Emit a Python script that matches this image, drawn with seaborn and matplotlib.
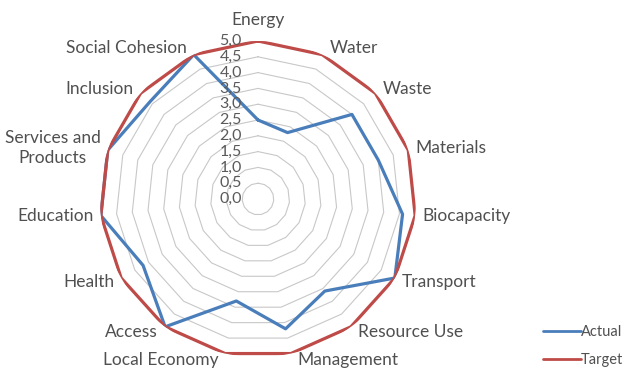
import numpy as np
import pandas as pd
import matplotlib
matplotlib.use("Agg")
import matplotlib.pyplot as plt
import seaborn as sns
from matplotlib.lines import Line2D

categories = ["Energy", "Water", "Waste", "Materials", "Biocapacity", "Transport",
              "Resource Use", "Management", "Local Economy", "Access", "Health",
              "Education", "Services and\nProducts", "Inclusion", "Social Cohesion"]
actual = [2.5, 2.3, 4.0, 4.0, 4.6, 5.0, 3.6, 4.2, 3.3, 5.0, 4.2, 5.0, 5.0, 4.6, 5.0]
target = [5.0] * 15
ring_levels = [0.5, 1.0, 1.5, 2.0, 2.5, 3.0, 3.5, 4.0, 4.5, 5.0]
tick_labels = ["0,0", "0,5", "1,0", "1,5", "2,0", "2,5", "3,0", "3,5", "4,0", "4,5", "5,0"]

sns.set_style("white")
plt.rcParams['font.family'] = ['Lato', 'DejaVu Sans']

n = len(categories)
angles = np.arange(n) * 2 * np.pi / n
closed = np.append(angles, angles[0])

rows = []
for name, vals in [("Actual", actual), ("Target", target)]:
    for i, a in enumerate(list(angles) + [angles[0]]):
        rows.append({"angle": a, "value": vals[i % n], "series": name})
df = pd.DataFrame(rows)

fig = plt.figure(figsize=(6.28, 3.74), dpi=100)
W, H = 628, 374
cx, cy, R = 258, 199, 158
ax = fig.add_axes([(cx - R) / W, (H - cy - R) / H, 2 * R / W, 2 * R / H], projection='polar')
ax.set_theta_zero_location('N')
ax.set_theta_direction(-1)
ax.set_ylim(0, 5)
ax.grid(False)
ax.spines['polar'].set_visible(False)
ax.set_xticks([])
ax.set_yticks([])
ax.patch.set_alpha(0)

for lv in ring_levels:
    ax.plot(closed, [lv] * (n + 1), color='#C8C8C8', lw=0.8, zorder=1)

palette = {"Actual": "#4A7EBB", "Target": "#BE4B48"}
sns.lineplot(data=df, x="angle", y="value", hue="series", sort=False, estimator=None,
             units="series", palette=palette, lw=2.3, ax=ax, legend=False, zorder=3)
ax.set_xlabel("")
ax.set_ylabel("")

txt_color = '#505050'

# radial tick labels
for i, t in enumerate(tick_labels):
    ax.annotate(t, xy=(0, i * 0.5), xytext=(-16, 0), textcoords='offset pixels',
                ha='right', va='center', fontsize=11.5, color='#5a5a5a',
                annotation_clip=False)

# category labels
for a, lab in zip(angles, categories):
    s, c = np.sin(a), np.cos(a)
    if abs(s) < 0.05:
        ha, dx, dy = 'center', 0, 21
    else:
        ha = 'left' if s > 0 else 'right'
        dx = 7 if s > 0 else -7
        dy = 7 * c
    ax.annotate(lab, xy=(a, 5.0), xytext=(dx, dy), textcoords='offset pixels',
                ha=ha, va='center', fontsize=12.5, color=txt_color,
                annotation_clip=False, linespacing=1.25, multialignment='center')

# legend
handles = [Line2D([], [], color=palette["Actual"], lw=2),
           Line2D([], [], color=palette["Target"], lw=2)]
fig.legend(handles, ["Actual", "Target"], loc='center left',
           bbox_to_anchor=(530 / W, 1 - 346 / H), frameon=False,
           handlelength=2.6, handletextpad=0.0, labelspacing=1.0,
           prop={'size': 10.5}, labelcolor=txt_color)

fig.savefig("out.png", dpi=100)
